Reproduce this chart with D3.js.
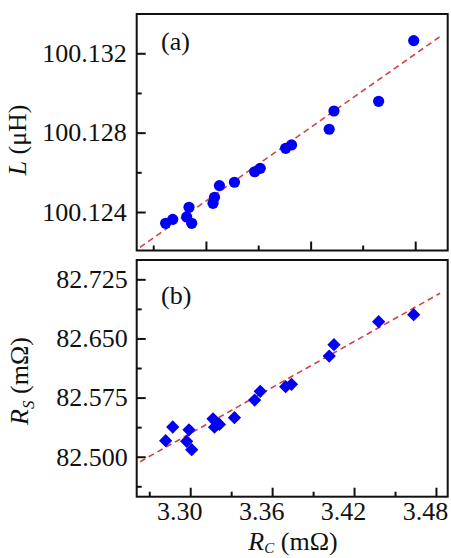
<!DOCTYPE html>
<html>
<head>
<meta charset="utf-8">
<script src="https://cdn.jsdelivr.net/npm/d3@7"></script>
<style>
  body { margin: 0; background: #fff; }
  svg text { font-family: "Liberation Serif", "Times New Roman", serif; fill: #111; }
</style>
</head>
<body>
<div id="chart"></div>
<script>

// R_C values (mOhm), shared by both panels
var rc = [3.2820, 3.2872, 3.2974, 3.2991, 3.3011, 3.3167, 3.3178, 3.3214, 3.3324,
          3.3472, 3.3513, 3.3699, 3.3742, 3.4018, 3.4053, 3.4380, 3.4637];

// panel (a): inductance L (uH)
var inductance = [100.12343, 100.12363, 100.12375, 100.12424, 100.12343, 100.12444,
                  100.12474, 100.12533, 100.12550, 100.12603, 100.12620, 100.12721,
                  100.12738, 100.12817, 100.12909, 100.12958, 100.13264];

// panel (b): series resistance R_S (mOhm)
var rs = [82.5203, 82.5377, 82.5195, 82.5341, 82.5089, 82.5481, 82.5374, 82.5410,
          82.5495, 82.5719, 82.5830, 82.5888, 82.5918, 82.6277, 82.6421, 82.6712, 82.6801];

// linear fits (end points)
var fitRC = [3.2632, 3.4830];
var fitL = [100.12222, 100.13284];
var fitRS = [82.4937, 82.7073];

// ticks
var xMajor = [3.30, 3.36, 3.42, 3.48];
var xMinor = [3.27, 3.33, 3.39, 3.45];
var topXMajor = [3.3115, 3.3882, 3.4648];   // top panel ticks (no labels)
var topXMinor = [3.2729, 3.3498, 3.4263];
var lMajor = [100.124, 100.128, 100.132];
var lMinor = [100.126, 100.130];
var rsMajor = [82.500, 82.575, 82.650, 82.725];
var rsMinor = [82.4625, 82.5375, 82.6125, 82.6875];

var width = 451, height = 558;
var left = 136.7, right = 447.7;
var top1 = 14, bot1 = 250.5;
var top2 = 260, bot2 = 496.7;

var svg = d3.select("#chart").append("svg")
    .attr("width", width)
    .attr("height", height);

var x = d3.scaleLinear().domain([3.2608, 3.4886]).range([left, right]);
var yL = d3.scaleLinear().domain([100.12206, 100.13398]).range([bot1, top1]);
var yR = d3.scaleLinear().domain([82.4493, 82.7495]).range([bot2, top2]);

function styleAxis(g) {
  g.select(".domain").remove();
  g.selectAll("line").attr("stroke", "#111").attr("stroke-width", 2);
  g.selectAll("text").attr("font-size", "26px").attr("fill", "#111")
    .style("font-family", '"Liberation Serif", "Times New Roman", serif');
}

// ---- panel (a)
svg.append("g")
    .attr("transform", "translate(" + left + ",0)")
    .call(d3.axisLeft(yL).tickValues(lMajor).tickSize(-9).tickPadding(10)
      .tickFormat(d3.format(".3f")))
    .call(styleAxis);

svg.append("g")
    .attr("transform", "translate(" + left + ",0)")
    .call(d3.axisLeft(yL).tickValues(lMinor).tickSize(-5).tickFormat(""))
    .call(styleAxis);

svg.append("g")
    .attr("transform", "translate(0," + bot1 + ")")
    .call(d3.axisBottom(x).tickValues(topXMajor).tickSize(-9).tickFormat(""))
    .call(styleAxis);

svg.append("g")
    .attr("transform", "translate(0," + bot1 + ")")
    .call(d3.axisBottom(x).tickValues(topXMinor).tickSize(-5).tickFormat(""))
    .call(styleAxis);

svg.append("path")
    .datum(d3.zip(fitRC, fitL))
    .attr("fill", "none")
    .attr("stroke", "#d6404a")
    .attr("stroke-width", 1.6)
    .attr("stroke-dasharray", "6,4")
    .attr("d", d3.line().x(function(d) { return x(d[0]); }).y(function(d) { return yL(d[1]); }));

svg.selectAll(".ptA")
    .data(d3.zip(rc, inductance))
  .enter().append("circle")
    .attr("class", "ptA")
    .attr("cx", function(d) { return x(d[0]); })
    .attr("cy", function(d) { return yL(d[1]); })
    .attr("r", 5.6)
    .attr("fill", "#0000f5");

svg.append("rect")
    .attr("x", left).attr("y", top1)
    .attr("width", right - left).attr("height", bot1 - top1)
    .attr("fill", "none").attr("stroke", "#111").attr("stroke-width", 2);

svg.append("text")
    .attr("x", 161).attr("y", 50)
    .attr("font-size", "26px")
    .text("(a)");

// ---- panel (b)
svg.append("g")
    .attr("transform", "translate(" + left + ",0)")
    .call(d3.axisLeft(yR).tickValues(rsMajor).tickSize(-9).tickPadding(9)
      .tickFormat(d3.format(".3f")))
    .call(styleAxis);

svg.append("g")
    .attr("transform", "translate(" + left + ",0)")
    .call(d3.axisLeft(yR).tickValues(rsMinor).tickSize(-5).tickFormat(""))
    .call(styleAxis);

svg.append("g")
    .attr("transform", "translate(0," + bot2 + ")")
    .call(d3.axisBottom(x).tickValues(xMajor).tickSize(-9).tickPadding(5)
      .tickFormat(d3.format(".2f")))
    .call(styleAxis)
    .selectAll("text").attr("dx", -11);   // labels sit a little left of their ticks

svg.append("g")
    .attr("transform", "translate(0," + bot2 + ")")
    .call(d3.axisBottom(x).tickValues(xMinor).tickSize(-5).tickFormat(""))
    .call(styleAxis);

svg.append("path")
    .datum(d3.zip(fitRC, fitRS))
    .attr("fill", "none")
    .attr("stroke", "#d6404a")
    .attr("stroke-width", 1.6)
    .attr("stroke-dasharray", "6,4")
    .attr("d", d3.line().x(function(d) { return x(d[0]); }).y(function(d) { return yR(d[1]); }));

svg.selectAll(".ptB")
    .data(d3.zip(rc, rs))
  .enter().append("path")
    .attr("class", "ptB")
    .attr("d", d3.symbol(d3.symbolSquare, 88))
    .attr("transform", function(d) {
      return "translate(" + x(d[0]) + "," + yR(d[1]) + ") rotate(45)";
    })
    .attr("fill", "#0000f5");

svg.append("rect")
    .attr("x", left).attr("y", top2)
    .attr("width", right - left).attr("height", bot2 - top2)
    .attr("fill", "none").attr("stroke", "#111").attr("stroke-width", 2);

svg.append("text")
    .attr("x", 161).attr("y", 304)
    .attr("font-size", "26px")
    .text("(b)");

// ---- axis titles
var tL = svg.append("text")
    .attr("transform", "translate(26,140) rotate(-90)")
    .attr("text-anchor", "middle")
    .attr("font-size", "26px");
tL.append("tspan").attr("font-style", "italic").text("L");
tL.append("tspan").text(" (μH)");

var tR = svg.append("text")
    .attr("transform", "translate(28,381) rotate(-90)")
    .attr("text-anchor", "middle")
    .attr("font-size", "26px");
tR.append("tspan").attr("font-style", "italic").text("R");
tR.append("tspan").attr("font-style", "italic").attr("font-size", "17px").attr("dy", "6").text("S");
tR.append("tspan").attr("dy", "-6").text(" (mΩ)");

var tX = svg.append("text")
    .attr("x", 293).attr("y", 550)
    .attr("text-anchor", "middle")
    .attr("font-size", "26px");
tX.append("tspan").attr("font-style", "italic").text("R");
tX.append("tspan").attr("font-style", "italic").attr("font-size", "15px").attr("dy", "3").text("C");
tX.append("tspan").attr("dy", "-3").text(" (mΩ)");

</script>
</body>
</html>
